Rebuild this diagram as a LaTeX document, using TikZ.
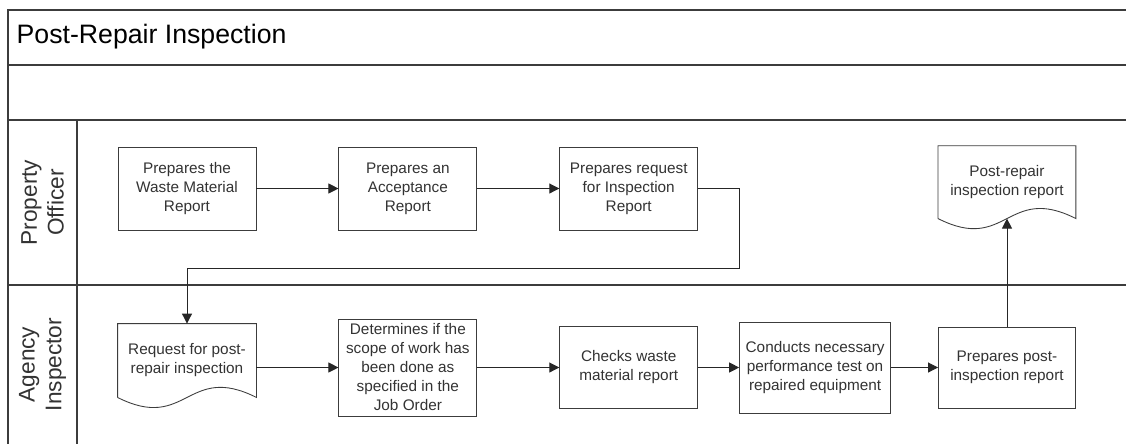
\documentclass[tikz,border=0pt]{standalone}
\usepackage{fontspec}
\setmainfont{Liberation Sans}
\usetikzlibrary{arrows.meta, positioning, calc}
\definecolor{linegray}{HTML}{3C3C3C}
\definecolor{textgray}{HTML}{333333}

% document symbol: straight top and sides, wavy bottom
\newcommand{\docoutline}[1]{%
  \draw[boxline] (#1.south west) -- (#1.north west) -- (#1.north east) -- (#1.south east)
    .. controls ($(#1.south)+(0,-35)$) and ($(#1.south)+(0,35)$) .. (#1.south west);}

\begin{document}
\begin{tikzpicture}[
  x=0.75pt, y=-0.75pt,
  boxline/.style={draw=linegray, line width=0.65pt},
  procbox/.style={rectangle, boxline, fill=white, align=center, inner sep=2pt,
                  font=\fontsize{11.5}{14.25}\selectfont, text=textgray,
                  minimum width=103.5pt, minimum height=62.25pt},
  docbox/.style={procbox, draw=none, fill=none, minimum height=54.75pt},
  lanetitle/.style={rotate=90, align=center, text=textgray,
                    font=\fontsize{17}{20}\selectfont},
  frame/.style={draw=linegray, line width=1pt},
  arr/.style={-{Triangle[length=7.5pt, width=7.5pt]}, draw=black!85, line width=0.7pt},
]
  \useasboundingbox[fill=white] (0,0) rectangle (1126,444);

  % pool and lanes
  \draw[frame] (1126,10) -- (8,10) -- (8,444);
  \draw[frame] (8,65) -- (1126,65);
  \draw[frame] (8,120) -- (1126,120);
  \draw[frame] (8,285) -- (1126,285);
  \draw[frame] (77,120) -- (77,444);

  \node[anchor=west, font=\fontsize{20}{24}\selectfont] (title) at (12,37) {Post-Repair Inspection};
  \node[lanetitle] (laneofficer) at (42.5,202.5) {Property\\Officer};
  \node[lanetitle] (laneinspector) at (42.5,364.5) {Agency\\Inspector};

  % Property Officer
  \node[procbox] (wasterep) at (187,188.5) {Prepares the\\Waste Material\\Report};
  \node[procbox, right=61.5pt of wasterep] (acceptrep) {Prepares an\\Acceptance\\Report};
  \node[procbox, right=61.5pt of acceptrep] (requestrep) {Prepares request\\for Inspection\\Report};

  % Agency Inspector
  \node[docbox] (requestdoc) at (187,360.5) {Request for post-\\repair inspection};
  \docoutline{requestdoc}
  \node[procbox, minimum height=72.75pt, right=61.5pt of requestdoc, yshift=-5.25pt] (scopecheck)
    {Determines if the\\scope of work has\\been done as\\specified in the\\Job Order};
  \node[procbox, minimum height=61.5pt, right=61.5pt of scopecheck] (wastecheck)
    {Checks waste\\material report};
  \node[procbox, minimum width=113.25pt, minimum height=68.25pt, right=30.75pt of wastecheck] (perftest)
    {Conducts necessary\\performance test on\\repaired equipment};
  \node[procbox, minimum width=102.75pt, minimum height=60.75pt, right=35.25pt of perftest] (postinsp)
    {Prepares post-\\inspection report};

  \node[docbox, minimum width=102.75pt, minimum height=54pt, above=81pt of postinsp] (reportdoc)
    {Post-repair\\inspection report};
  \docoutline{reportdoc}

  % flow
  \draw[arr] (wasterep) -- (acceptrep);
  \draw[arr] (acceptrep) -- (requestrep);
  \draw[arr] (requestrep.east) -- ++(41,0) -- ++(0,80) -| (requestdoc.north);
  \draw[arr] (requestdoc.east |- scopecheck.west) -- (scopecheck.west);
  \draw[arr] (scopecheck) -- (wastecheck);
  \draw[arr] (wastecheck) -- (perftest);
  \draw[arr] (perftest) -- (postinsp);
  \draw[arr] (postinsp) -- (reportdoc.south);
\end{tikzpicture}
\end{document}
